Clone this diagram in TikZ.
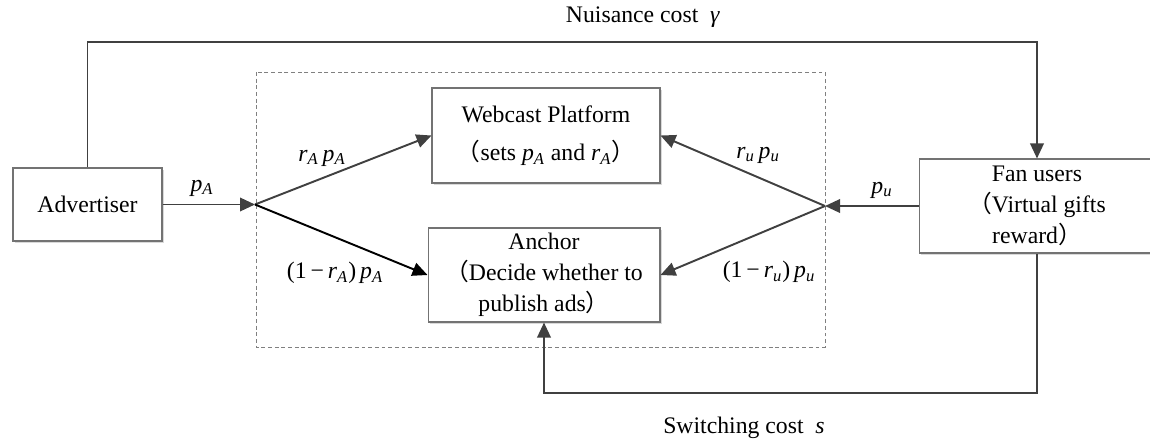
\documentclass[tikz,border=0pt]{standalone}
\usepackage{fontspec}
\setmainfont{Liberation Serif}
\newfontfamily\cjk{Noto Sans CJK SC}
\usetikzlibrary{arrows.meta,shadows}
\newcommand{\vsub}[2]{\textit{#1}\textsubscript{\textit{#2}}}
\newcommand{\lp}{{\cjk （}}
\newcommand{\rp}{{\cjk ）}}
\begin{document}
\begin{tikzpicture}[
    x=0.02cm, y=-0.02cm,
    font=\fontsize{13.5}{17.5}\selectfont,
    block/.style={rectangle, draw=black!55, line width=0.6pt, fill=white, align=center,
        inner sep=0pt, drop shadow={shadow xshift=1.2pt, shadow yshift=-1.2pt, fill=black!15, opacity=1}},
    flow/.style={draw=black!75, line width=1.1pt},
    >={Triangle[length=0.3cm, width=0.27cm]}
]
\useasboundingbox (0,0) rectangle (1150,443);

\draw[black!50, line width=0.5pt, dash pattern=on 2.2pt off 1.6pt] (256,72) rectangle (825,347);

\node[block, minimum width=2.98cm, minimum height=1.46cm] (adv) at (87.5,204.5) {Advertiser};
\node[block, minimum width=4.56cm, minimum height=1.9cm] (web) at (546,135.5)
    {Webcast Platform\\[4pt]\lp sets \vsub{p}{A} and \vsub{r}{A}\rp};
\node[block, minimum width=4.64cm, minimum height=1.88cm] (anc) at (544,275)
    {Anchor\\\lp Decide whether to\\publish ads\rp};
\node[block, minimum width=4.72cm, minimum height=1.88cm] (fan) at (1037,206)
    {Fan users\\\lp Virtual gifts\\reward\rp};

\coordinate (jl) at (255,204.5);
\coordinate (jr) at (825,206);
\coordinate (topy) at (0,42);
\coordinate (boty) at (0,393);

\draw[flow,->] (adv) -- (jl);
\draw[flow,->] (jl) -- (web.west);
\draw[flow,->,draw=black] (jl) -- (anc.west);
\draw[flow,->] (fan) -- (jr);
\draw[flow,->] (jr) -- (web.east);
\draw[flow,->] (jr) -- (anc.east);
\draw[flow,->] (adv.north) |- (topy -| fan.north) -- (fan.north);
\draw[flow,->] (fan.south) |- (boty -| anc.south) -- (anc.south);

\node (nuis) at (643,17) {Nuisance cost \ \textit{γ}};
\node (swc) at (744,428) {Switching cost \ \textit{s}};
\node (lpa) at (202,188) {\vsub{p}{A}};
\node (lrapa) at (322,158) {\vsub{r}{A}\,\vsub{p}{A}};
\node (lrbpa) at (335,273) {(1\,−\,\vsub{r}{A})\,\vsub{p}{A}};
\node (lrupu) at (758,155) {\vsub{r}{u}\,\vsub{p}{u}};
\node (lrvpu) at (769,272) {(1\,−\,\vsub{r}{u})\,\vsub{p}{u}};
\node (lpu) at (882,190) {\vsub{p}{u}};
\end{tikzpicture}
\end{document}
